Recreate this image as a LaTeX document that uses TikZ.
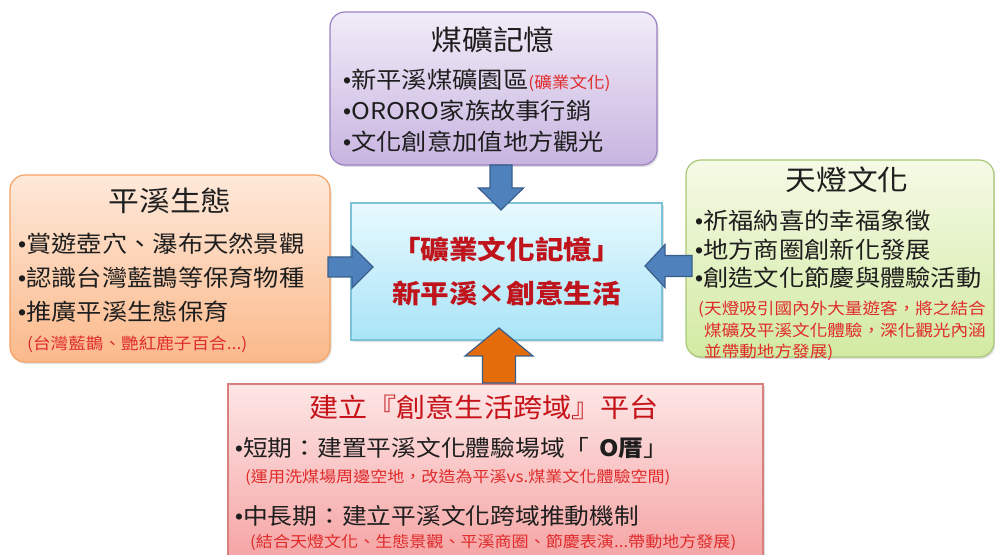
\documentclass[tikz,border=0pt]{standalone}
\usepackage{fontspec}
\setmainfont{Noto Sans CJK TC}[FakeStretch=1.1]
\newfontfamily\bulletfont{Liberation Sans}
\usetikzlibrary{calc,shadows}

\definecolor{memtop}{HTML}{F1ECF8}
\definecolor{membot}{HTML}{C8B4E0}
\definecolor{memline}{HTML}{9A82C2}
\definecolor{ecotop}{HTML}{FEE9DA}
\definecolor{ecobot}{HTML}{FBB98B}
\definecolor{ecoline}{HTML}{F5A262}
\definecolor{lantop}{HTML}{F5FAE6}
\definecolor{lanbot}{HTML}{D2EAA2}
\definecolor{lanline}{HTML}{A9C774}
\definecolor{plattop}{HTML}{FDE6E6}
\definecolor{platbot}{HTML}{F5A0A0}
\definecolor{platline}{HTML}{D9807E}
\definecolor{ctrtop}{HTML}{E8F9FE}
\definecolor{ctrbot}{HTML}{A9E4F7}
\definecolor{ctrline}{HTML}{7CC3D8}
\definecolor{arrowblue}{HTML}{4F81BD}
\definecolor{arrowline}{HTML}{3A5E8C}
\definecolor{arroworange}{HTML}{E46C0A}
\definecolor{notered}{HTML}{E02B2B}
\definecolor{ctrred}{HTML}{C0141C}
\definecolor{bodytext}{HTML}{1E1E1E}

% narrow bullet
\newcommand{\bul}{{\bulletfont •}}

% block arrow: style, from, to, shaft half, head half, head length
\newcommand{\blockarrow}[6]{%
  \coordinate (bah) at ($(#3)!#6!(#2)$);
  \filldraw[#1] ($(#2)!#4!90:(#3)$) -- ($(bah)!#4!-90:(#2)$) -- ($(bah)!#5!-90:(#2)$)
    -- (#3) -- ($(bah)!#5!90:(#2)$) -- ($(bah)!#4!90:(#2)$) -- ($(#2)!#4!-90:(#3)$) -- cycle;}

\begin{document}
\begin{tikzpicture}
[x=1pt,y=1pt,%
  box/.style={draw,line width=1.2pt,outer sep=0pt,inner sep=0pt,%
    drop shadow={opacity=.25,shadow xshift=1.5pt,shadow yshift=-2pt}},%
  roundbox/.style={box,rounded corners=15pt},%
  title/.style={inner sep=0pt,text=bodytext,font=\fontsize{28}{30}\selectfont},%
  items/.style={anchor=west,inner sep=0pt,align=left,text=bodytext},%
  note/.style={anchor=west,inner sep=0pt,align=left,text=notered},%
  bluearrow/.style={fill=arrowblue,draw=arrowline,line width=1.2pt,line join=miter},%
  orangearrow/.style={bluearrow,fill=arroworange}]
\clip (0,0) rectangle (995,554);

% boxes
\node[roundbox,top color=memtop,bottom color=membot,draw=memline,
  minimum width=327pt,minimum height=153pt] (mem) at (493.5,465.5) {};
\node[roundbox,top color=ecotop,bottom color=ecobot,draw=ecoline,
  minimum width=320pt,minimum height=187pt] (eco) at (170,285.5) {};
\node[roundbox,top color=lantop,bottom color=lanbot,draw=lanline,
  minimum width=308pt,minimum height=197pt] (lan) at (840,295.5) {};
\node[box,top color=plattop,bottom color=platbot,draw=platline,
  minimum width=535pt,minimum height=186pt] (plat) at (495.5,77) {};
\node[box,top color=ctrtop,bottom color=ctrbot,draw=ctrline,
  minimum width=311pt,minimum height=137pt,align=center,text=ctrred,
  font=\fontsize{26}{44}\selectfont\bfseries] (ctr) at (506.5,282.5)
  {「礦業文化記憶」\\新平溪×創意生活};

% 煤礦記憶
\node[title] (memT) at (493,514) {煤礦記憶};
\node[items,font=\fontsize{23}{31}\selectfont] (memI) at (343,443)
  {\bul 新平溪煤礦園區{\fontsize{16}{16}\selectfont\color{notered}(礦業文化)}\\
   \bul ORORO家族故事行銷\\
   \bul 文化創意加值地方觀光};

% 平溪生態
\node[title] (ecoT) at (170,353) {平溪生態};
\node[items,font=\fontsize{23}{34}\selectfont] (ecoI) at (18,276)
  {\bul 賞遊壺穴、瀑布天然景觀\\
   \bul 認識台灣藍鵲等保育物種\\
   \bul 推廣平溪生態保育};
\node[note,font=\fontsize{16}{20}\selectfont] (ecoN) at (27,210)
  {(台灣藍鵲、艷紅鹿子百合...)};

% 天燈文化
\node[title] (lanT) at (847,374) {天燈文化};
\node[items,font=\fontsize{23}{28.5}\selectfont] (lanI) at (695,304.5)
  {\bul 祈福納喜的幸福象徵\\
   \bul 地方商圈創新化發展\\
   \bul 創造文化節慶與體驗活動};
\node[note,font=\fontsize{16}{21.5}\selectfont] (lanN) at (698,223)
  {(天燈吸引國內外大量遊客，將之結合\\
   \phantom{(}煤礦及平溪文化體驗，深化觀光內涵\\
   \phantom{(}並帶動地方發展)};

% 建立平台
\node[title,text=ctrred!90!red,font=\fontsize{26.5}{30}\selectfont] (platT) at (484,147)
  {建立『創意生活跨域』平台};
\node[items,font=\fontsize{22.5}{26}\selectfont] (platA) at (235,106)
  {\bul 短期：建置平溪文化體驗場域「\hspace{4pt} {\bfseries O厝}」};
\node[note,font=\fontsize{15.5}{20}\selectfont] (platAN) at (245,77)
  {(運用洗煤場周邊空地，改造為平溪vs.煤業文化體驗空間)};
\node[items,font=\fontsize{22.5}{26}\selectfont] (platB) at (235,38)
  {\bul 中長期：建立平溪文化跨域推動機制};
\node[note,font=\fontsize{15.5}{20}\selectfont] (platBN) at (250,12)
  {(結合天燈文化、生態景觀、平溪商圈、節慶表演...帶動地方發展)};

% arrows into the centre
\coordinate (memS) at ([xshift=7.5pt]mem.south);
\coordinate (ctrN) at ([xshift=-5.5pt,yshift=-7pt]ctr.north);
\coordinate (ecoE) at ([xshift=-2pt,yshift=1.5pt]eco.east);
\coordinate (ctrW) at ([xshift=22pt,yshift=4.5pt]ctr.west);
\coordinate (lanW) at ([xshift=6pt,yshift=-7.5pt]lan.west);
\coordinate (ctrE) at ([xshift=-17pt,yshift=5.5pt]ctr.east);
\coordinate (platN) at ([xshift=3.5pt,yshift=1pt]plat.north);
\coordinate (ctrS) at ([xshift=-7.5pt,yshift=12pt]ctr.south);
\blockarrow{bluearrow}{memS}{ctrN}{11pt}{22.5pt}{22pt}
\blockarrow{bluearrow}{ecoE}{ctrW}{10pt}{21pt}{21pt}
\blockarrow{bluearrow}{lanW}{ctrE}{10.5pt}{21.5pt}{20pt}
\blockarrow{orangearrow}{platN}{ctrS}{16.5pt}{34pt}{28pt}
\end{tikzpicture}
\end{document}
